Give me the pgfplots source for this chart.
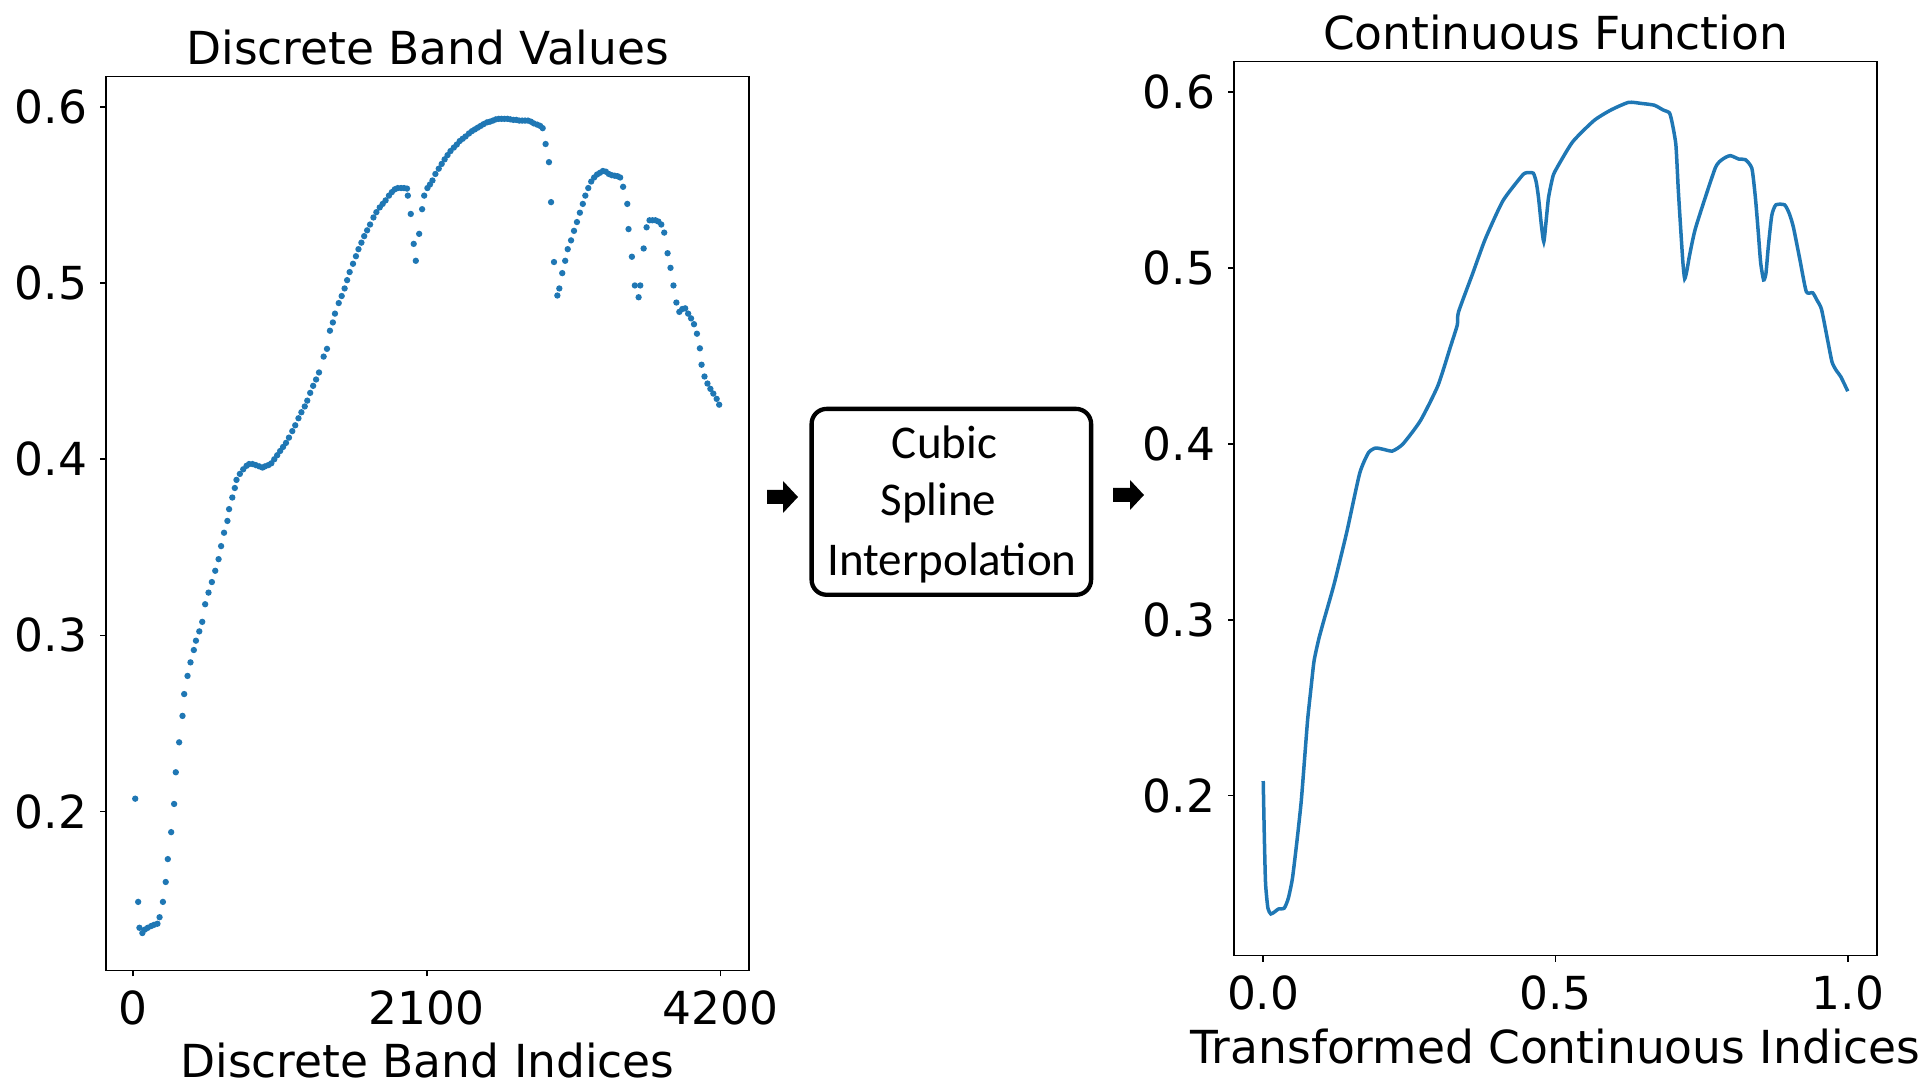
\documentclass[border=0pt]{standalone}
\usepackage{pgfplots}
\usepackage{pgfplotstable}
\pgfplotsset{compat=1.18}
\usepackage{fontspec}
\setmainfont{DejaVu Sans}
\newfontfamily\calibri{Carlito}
\definecolor{mplblue}{HTML}{1F77B4}

\pgfplotstableread{
d v
15 0.2073
36 0.1487
45 0.1340
66 0.1310
84 0.1330
105 0.1340
129 0.1350
150 0.1357
174 0.1363
189 0.1400
213 0.1487
233 0.1600
248 0.1730
272 0.1883
293 0.2043
305 0.2223
329 0.2393
353 0.2543
365 0.2667
389 0.2770
410 0.2847
434 0.2917
449 0.2970
473 0.3023
494 0.3077
515 0.3177
539 0.3243
563 0.3303
587 0.3367
611 0.3433
629 0.3507
650 0.3583
674 0.3650
686 0.3717
709 0.3783
727 0.3837
739 0.3883
763 0.3917
787 0.3943
811 0.3963
829 0.3973
853 0.3973
877 0.3967
901 0.3960
925 0.3953
943 0.3960
967 0.3967
988 0.3977
1009 0.4000
1030 0.4023
1051 0.4047
1072 0.4070
1093 0.4093
1114 0.4123
1138 0.4160
1159 0.4193
1182 0.4233
1203 0.4267
1227 0.4300
1245 0.4333
1266 0.4377
1287 0.4417
1308 0.4453
1329 0.4493
1362 0.4583
1386 0.4627
1407 0.4730
1428 0.4777
1443 0.4827
1470 0.4887
1491 0.4927
1512 0.4970
1530 0.5017
1548 0.5063
1572 0.5110
1593 0.5153
1611 0.5193
1632 0.5230
1652 0.5267
1673 0.5300
1694 0.5333
1718 0.5373
1739 0.5403
1763 0.5430
1784 0.5450
1805 0.5470
1829 0.5497
1850 0.5517
1871 0.5533
1892 0.5540
1916 0.5540
1937 0.5540
1958 0.5537
1964 0.5497
1985 0.5393
2006 0.5223
2021 0.5127
2045 0.5280
2066 0.5420
2081 0.5497
2104 0.5540
2122 0.5560
2140 0.5583
2161 0.5620
2185 0.5650
2206 0.5677
2227 0.5703
2248 0.5727
2269 0.5750
2293 0.5770
2314 0.5787
2335 0.5807
2356 0.5820
2377 0.5833
2401 0.5850
2422 0.5863
2443 0.5873
2464 0.5883
2485 0.5893
2506 0.5903
2530 0.5913
2551 0.5917
2572 0.5923
2593 0.5930
2614 0.5933
2634 0.5933
2655 0.5933
2676 0.5933
2697 0.5930
2718 0.5927
2739 0.5927
2760 0.5923
2781 0.5923
2802 0.5923
2823 0.5923
2844 0.5917
2865 0.5907
2889 0.5900
2910 0.5893
2928 0.5880
2949 0.5790
2973 0.5687
2988 0.5460
3009 0.5120
3033 0.4930
3047 0.4970
3068 0.5057
3089 0.5127
3107 0.5193
3131 0.5243
3152 0.5297
3173 0.5347
3194 0.5400
3215 0.5450
3233 0.5497
3254 0.5540
3275 0.5577
3296 0.5600
3317 0.5617
3338 0.5627
3359 0.5637
3380 0.5633
3401 0.5620
3422 0.5613
3443 0.5610
3464 0.5607
3482 0.5600
3503 0.5547
3533 0.5450
3542 0.5307
3566 0.5150
3587 0.4987
3614 0.4920
3626 0.4987
3650 0.5197
3671 0.5317
3692 0.5357
3713 0.5357
3734 0.5357
3755 0.5350
3776 0.5333
3797 0.5287
3821 0.5170
3842 0.5087
3863 0.4987
3884 0.4890
3905 0.4837
3926 0.4853
3947 0.4857
3968 0.4827
3989 0.4800
4010 0.4767
4031 0.4713
4052 0.4630
4064 0.4537
4085 0.4470
4106 0.4430
4127 0.4400
4148 0.4373
4172 0.4343
4190 0.4310
}\discrete

\pgfplotstableread{
u v
0.000 0.2083
0.002 0.1750
0.004 0.1500
0.008 0.1360
0.013 0.1327
0.020 0.1340
0.026 0.1355
0.036 0.1360
0.043 0.1417
0.050 0.1530
0.058 0.1750
0.065 0.1967
0.071 0.2220
0.076 0.2433
0.082 0.2620
0.087 0.2767
0.095 0.2890
0.104 0.3000
0.121 0.3200
0.143 0.3500
0.165 0.3833
0.180 0.3950
0.192 0.3977
0.205 0.3970
0.221 0.3960
0.239 0.4000
0.269 0.4133
0.299 0.4333
0.320 0.4550
0.332 0.4677
0.334 0.4750
0.358 0.4967
0.380 0.5167
0.410 0.5383
0.443 0.5527
0.451 0.5543
0.462 0.5540
0.467 0.5490
0.471 0.5400
0.476 0.5240
0.480 0.5150
0.484 0.5270
0.488 0.5400
0.494 0.5500
0.499 0.5550
0.529 0.5717
0.566 0.5840
0.595 0.5900
0.625 0.5943
0.647 0.5937
0.669 0.5927
0.684 0.5900
0.695 0.5883
0.700 0.5820
0.706 0.5700
0.710 0.5450
0.714 0.5233
0.718 0.5030
0.721 0.4940
0.725 0.4990
0.729 0.5067
0.740 0.5233
0.773 0.5567
0.786 0.5620
0.799 0.5640
0.814 0.5620
0.825 0.5617
0.836 0.5567
0.842 0.5400
0.847 0.5200
0.851 0.5030
0.856 0.4933
0.860 0.4970
0.864 0.5120
0.870 0.5300
0.877 0.5360
0.892 0.5360
0.900 0.5310
0.907 0.5233
0.918 0.5050
0.929 0.4867
0.940 0.4860
0.947 0.4820
0.955 0.4767
0.965 0.4600
0.973 0.4467
0.980 0.4420
0.988 0.4383
1.000 0.4300
}\continuous

\pgfplotsset{
  panel/.style={
    scale only axis, width=128.6pt, height=178.8pt, anchor=north west,
    tick align=outside, major tick length=1.2pt,
    tick style={black, line width=0.35pt},
    axis line style={line width=0.35pt},
    font=\fontsize{9.1pt}{10.9pt}\selectfont,
    ticklabel style={font=\fontsize{9.1pt}{10.9pt}\selectfont},
    /pgf/number format/assume math mode=true,
    xtick pos=bottom, ytick pos=left,
    ytick={0.2,0.3,0.4,0.5,0.6},
    yticklabels={0.2,0.3,0.4,0.5,0.6},
    every axis title shift=0pt,
    title style={at={(axis description cs:0.5,1)}, anchor=base, yshift=2.4pt, inner sep=0pt},
    xlabel style={at={(axis description cs:0.5,0)}, anchor=base, yshift=-21.5pt, inner sep=0pt},
    xticklabel style={anchor=base, inner sep=0pt, yshift=-9.6pt},
    yticklabel style={anchor=east, inner sep=0pt, xshift=-2.4pt},
  }
}

\begin{document}
\begin{tikzpicture}[x=1pt,y=1pt]
\useasboundingbox (0,0) rectangle (386.2,-216.4);

\begin{axis}[panel, at={(21.2pt,-15.28pt)},
  xmin=-194, xmax=4403, ymin=0.1098, ymax=0.6174,
  xtick={0,2100,4200}, xticklabels={0,2100,4200},
  title={Discrete Band Values}, xlabel={Discrete Band Indices}]
\addplot[only marks, mark=*, mark size=0.42pt, mplblue, mark options={draw=mplblue, fill=mplblue}] table[x=d, y=v] {\discrete};
\end{axis}

\begin{axis}[panel, at={(246.8pt,-12.32pt)},
  xmin=-0.05, xmax=1.05, ymin=0.109, ymax=0.6175,
  xtick={0,0.5,1}, xticklabels={0.0,0.5,1.0},
  title={Continuous Function}, xlabel={Transformed Continuous Indices}]
\addplot[mplblue, line width=0.7pt, smooth, tension=0.35, no marks] table[x=u, y=v] {\continuous};
\end{axis}

% middle box
\draw[line width=0.86pt, rounded corners=3pt] (162.32,-81.78) rectangle (218.22,-118.96);
\node[anchor=base, inner sep=0pt, font=\calibri\fontsize{9.4pt}{11pt}\selectfont] at (188.9,-91.62) {Cubic};
\node[anchor=base, inner sep=0pt, font=\calibri\fontsize{9.4pt}{11pt}\selectfont] at (187.7,-103.2) {Spline};
\node[anchor=base, inner sep=0pt, font=\calibri\fontsize{9.4pt}{11pt}\selectfont] at (190.4,-115.02) {Interpolation};

% arrows
\fill[black] (153.4,-98.0) -- (156.6,-98.0) -- (156.6,-96.2) -- (159.6,-99.4) -- (156.6,-102.6) -- (156.6,-100.8) -- (153.4,-100.8) -- cycle;
\fill[black] (222.6,-97.6) -- (226.0,-97.6) -- (226.0,-96.0) -- (228.8,-99.0) -- (226.0,-102.0) -- (226.0,-100.4) -- (222.6,-100.4) -- cycle;
\end{tikzpicture}
\end{document}
